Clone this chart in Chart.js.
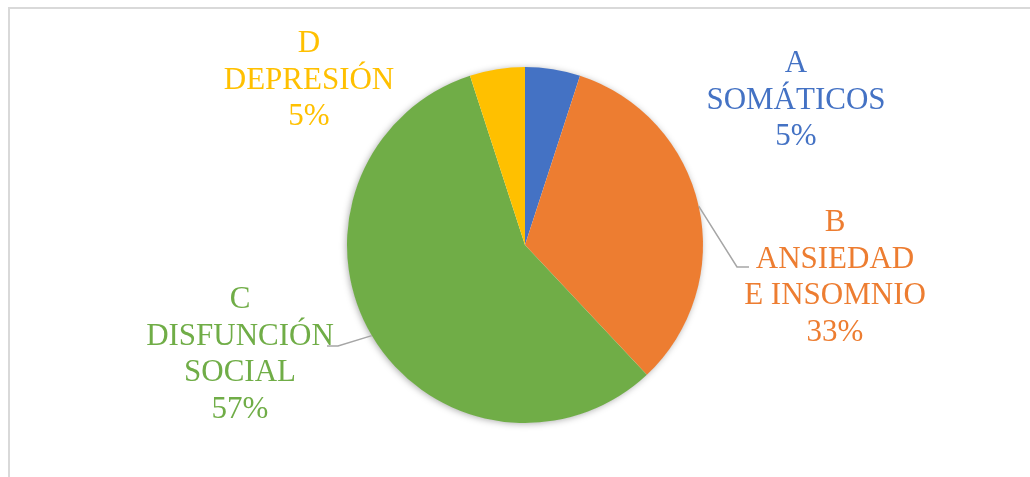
<!DOCTYPE html>
<html lang="es">
<head>
    <meta charset="UTF-8">
    <title>Pie</title>
    <style>
        body {
            margin: 0;
            background: #fff;
            overflow: hidden;
        }
        #frame {
            position: absolute;
            left: 8px;
            top: 7px;
            width: 1100px;
            height: 600px;
            border: 2px solid #d9d9d9;
        }
        #chart-container {
            position: absolute;
            left: 0;
            top: 0;
            width: 1030px;
            height: 477px;
        }
    </style>
    <script src="https://cdn.jsdelivr.net/npm/chart.js"></script>
</head>
<body>
    <div id="frame"></div>
    <div id="chart-container">
        <canvas id="graph"></canvas>
    </div>
    <script>
        const letters = ['A', 'B', 'C', 'D'];
        const names = [['SOMÁTICOS'], ['ANSIEDAD', 'E INSOMNIO'], ['DISFUNCIÓN', 'SOCIAL'], ['DEPRESIÓN']];
        const values = [5, 33, 57, 5];
        const colors = ['#4472c4', '#ed7d31', '#70ad47', '#ffc000'];

        // label placement relative to the pie centre (first baseline), and leader line bends
        const labelOffsets = [[271, -173], [310, -14], [-285, 63], [-216, -193]];
        const leaders = [null, [[212, 22], [224, 22]], [[-187, 101], [-198, 101]], null];

        const labelPlugin = {
            id: 'pieLabels',
            beforeDatasetsDraw(chart) {
                // soft shadow under the whole pie
                const arc = chart.getDatasetMeta(0).data[0];
                const ctx = chart.ctx;
                ctx.save();
                ctx.shadowColor = 'rgba(0,0,0,0.35)';
                ctx.shadowBlur = 7;
                ctx.shadowOffsetX = -1;
                ctx.shadowOffsetY = 1;
                ctx.fillStyle = '#fff';
                ctx.beginPath();
                ctx.arc(arc.x, arc.y, arc.outerRadius - 0.5, 0, Math.PI * 2);
                ctx.fill();
                ctx.restore();
            },
            afterDatasetsDraw(chart) {
                const ctx = chart.ctx;
                const meta = chart.getDatasetMeta(0);
                const total = values.reduce((a, b) => a + b, 0);
                ctx.save();
                meta.data.forEach((arc, i) => {
                    const cx = arc.x, cy = arc.y;
                    if (leaders[i]) {
                        const mid = (arc.startAngle + arc.endAngle) / 2;
                        ctx.strokeStyle = '#a6a6a6';
                        ctx.lineWidth = 1.5;
                        ctx.beginPath();
                        ctx.moveTo(cx + Math.cos(mid) * arc.outerRadius, cy + Math.sin(mid) * arc.outerRadius);
                        leaders[i].forEach(p => ctx.lineTo(cx + p[0], cy + p[1]));
                        ctx.stroke();
                    }
                    const lines = [letters[i]].concat(names[i], [Math.round(values[i] / total * 100) + '%']);
                    ctx.fillStyle = colors[i];
                    ctx.font = '31px "Liberation Serif", "Times New Roman", serif';
                    ctx.textAlign = 'center';
                    ctx.textBaseline = 'alphabetic';
                    lines.forEach((t, k) => {
                        ctx.fillText(t, cx + labelOffsets[i][0], cy + labelOffsets[i][1] + k * 36.7);
                    });
                });
                ctx.restore();
            }
        };

        window.onload = function() {
            const ctx = document.getElementById('graph').getContext('2d');
            new Chart(ctx, {
                type: 'pie',
                data: {
                    labels: letters,
                    datasets: [{
                        data: values,
                        backgroundColor: colors,
                        borderWidth: 0
                    }]
                },
                options: {
                    responsive: true,
                    maintainAspectRatio: false,
                    animation: false,
                    layout: {
                        padding: { top: 67, bottom: 54, left: 200, right: 180 }
                    },
                    plugins: {
                        legend: { display: false },
                        tooltip: { enabled: false }
                    }
                },
                plugins: [labelPlugin]
            });
        };
    </script>
</body>
</html>
